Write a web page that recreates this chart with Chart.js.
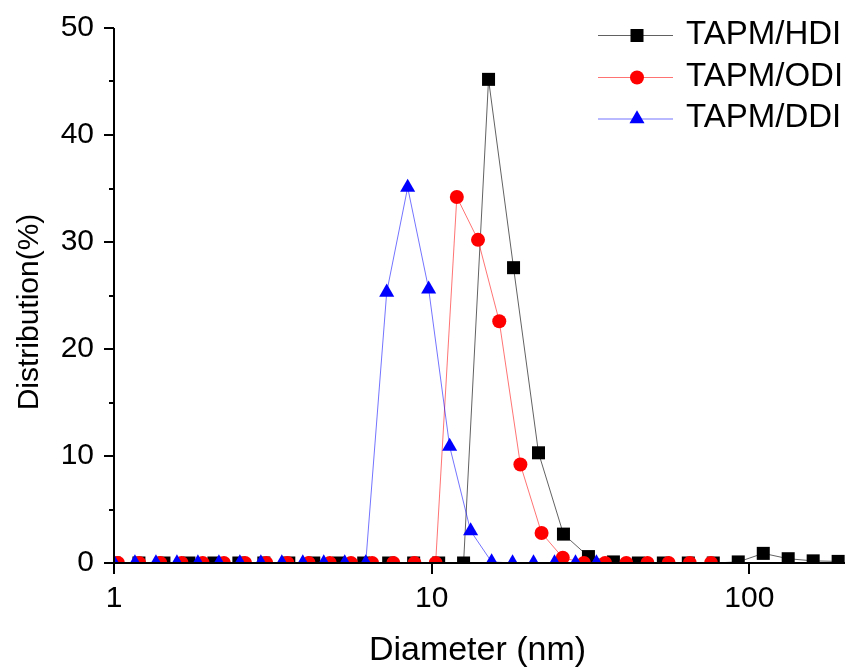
<!DOCTYPE html>
<html>
<head>
<meta charset="utf-8">
<script src="https://cdn.jsdelivr.net/npm/chart.js@4.4.1/dist/chart.umd.min.js"></script>
<style>
html,body{margin:0;padding:0;background:#fff;}
#wrap{width:849px;height:669px;}
</style>
</head>
<body>
<div id="wrap"><canvas id="c" width="849" height="669"></canvas></div>
<script>
// ---- data ----
const seriesLabels = ['TAPM/HDI', 'TAPM/ODI', 'TAPM/DDI'];

const hdiDiameter = [1.000, 1.198, 1.436, 1.721, 2.063, 2.472, 2.962, 3.550, 4.254, 5.098,
  6.110, 7.322, 8.775, 10.52, 12.60, 15.10, 18.10, 21.69, 25.99, 31.15,
  37.33, 44.73, 53.61, 64.24, 76.99, 92.26, 110.6, 132.5, 158.8, 190.3];
const hdiValues = [0, 0, 0, 0, 0, 0, 0, 0, 0, 0,
  0, 0, 0, 0, 0, 45.2, 27.6, 10.3, 2.7, 0.6,
  0.1, 0, 0, 0, 0, 0.1, 0.9, 0.4, 0.2, 0.15];

const odiDiameter = [1.029, 1.200, 1.399, 1.632, 1.902, 2.218, 2.586, 3.015, 3.515, 4.098,
  4.778, 5.571, 6.495, 7.573, 8.829, 10.29, 12.00, 13.99, 16.32, 19.02,
  22.18, 25.86, 30.15, 35.15, 40.98, 47.78, 55.71, 64.95, 75.73];
const odiValues = [0, 0, 0, 0, 0, 0, 0, 0, 0, 0,
  0, 0, 0, 0, 0, 0, 34.2, 30.2, 22.6, 9.2,
  2.8, 0.5, 0, 0, 0, 0, 0, 0, 0];

const ddiDiameter = [1.000, 1.164, 1.355, 1.578, 1.837, 2.139, 2.490, 2.899, 3.375, 3.929,
  4.574, 5.326, 6.200, 7.218, 8.403, 9.783, 11.39, 13.26, 15.44, 17.97,
  20.92, 24.36, 28.36, 33.01];
const ddiValues = [0, 0, 0, 0, 0, 0, 0, 0, 0, 0,
  0, 0, 0, 25.3, 35.1, 25.6, 10.9, 3.0, 0.1, 0,
  0, 0, 0, 0];

const xTickValues = [1, 10, 100];
const yMajorTicks = [0, 10, 20, 30, 40, 50];
const yMinorTicks = [5, 15, 25, 35, 45];

const xTitle = 'Diameter (nm)';
const yTitle = 'Distribution(%)';

// ---- chart ----
const FONT = "'Liberation Sans', Arial, sans-serif";
function pts(xs, ys) { return xs.map((x, i) => ({x: x, y: ys[i]})); }

const styles = [
  {line: 'rgba(0,0,0,0.62)', fill: '#000000', shape: 'rect', r: 9.2},
  {line: 'rgba(255,0,0,0.55)', fill: '#ff0000', shape: 'circle', r: 7},
  {line: 'rgba(0,0,255,0.55)', fill: '#0000ff', shape: 'triangle', r: 8.7}
];
const allX = [hdiDiameter, odiDiameter, ddiDiameter];
const allY = [hdiValues, odiValues, ddiValues];

const datasets = seriesLabels.map((lab, k) => ({
  label: lab,
  data: pts(allX[k], allY[k]),
  borderColor: styles[k].line,
  borderWidth: 1,
  backgroundColor: styles[k].fill,
  pointBackgroundColor: styles[k].fill,
  pointBorderColor: styles[k].fill,
  pointBorderWidth: 0,
  pointStyle: styles[k].shape,
  pointRadius: styles[k].r,
  pointHoverRadius: styles[k].r,
  tension: 0,
  order: 3 - k
}));

const decor = {
  id: 'decor',
  afterDraw(chart) {
    const ctx = chart.ctx;
    const xs = chart.scales.x, ys = chart.scales.y;
    const a = chart.chartArea;
    ctx.save();
    ctx.strokeStyle = '#000';
    ctx.lineWidth = 2;
    // axes
    ctx.beginPath();
    ctx.moveTo(a.left, a.top);
    ctx.lineTo(a.left, a.bottom);
    ctx.lineTo(a.right, a.bottom);
    ctx.stroke();
    // y ticks
    yMajorTicks.forEach(v => {
      const y = Math.round(ys.getPixelForValue(v));
      ctx.beginPath(); ctx.moveTo(a.left - 10, y); ctx.lineTo(a.left, y); ctx.stroke();
    });
    yMinorTicks.forEach(v => {
      const y = Math.round(ys.getPixelForValue(v));
      ctx.beginPath(); ctx.moveTo(a.left - 5, y); ctx.lineTo(a.left, y); ctx.stroke();
    });
    // x ticks
    xTickValues.forEach(v => {
      const x = Math.round(xs.getPixelForValue(v));
      ctx.beginPath(); ctx.moveTo(x, a.bottom); ctx.lineTo(x, a.bottom + 11); ctx.stroke();
    });
    // titles
    ctx.fillStyle = '#000';
    ctx.textAlign = 'center';
    ctx.textBaseline = 'middle';
    ctx.font = '34px ' + FONT;
    ctx.fillText(xTitle, (a.left + a.right) / 2 - 2, 651);
    ctx.save();
    ctx.translate(30, 312);
    ctx.rotate(-Math.PI / 2);
    ctx.font = '30px ' + FONT;
    ctx.fillText(yTitle, 0, 0);
    ctx.restore();
    // legend
    const legY = [35.5, 77.5, 119];
    ctx.font = '33px ' + FONT;
    ctx.textAlign = 'left';
    seriesLabels.forEach((lab, k) => {
      const y = legY[k];
      ctx.strokeStyle = styles[k].line;
      ctx.lineWidth = 1;
      ctx.beginPath(); ctx.moveTo(598, y); ctx.lineTo(673, y); ctx.stroke();
      ctx.fillStyle = styles[k].fill;
      ctx.strokeStyle = styles[k].fill;
      Chart.helpers.drawPoint(ctx, {pointStyle: styles[k].shape, radius: styles[k].r, borderWidth: 0, rotation: 0}, 637, y);
      ctx.fillStyle = '#000';
      ctx.fillText(lab, 686, y - 1);
    });
    ctx.restore();
  }
};

new Chart(document.getElementById('c'), {
  type: 'line',
  data: {datasets: datasets},
  options: {
    responsive: false,
    animation: false,
    devicePixelRatio: 1,
    layout: {autoPadding: false, padding: {left: 0, right: 4, top: 28, bottom: 0}},
    plugins: {legend: {display: false}, tooltip: {enabled: false}, title: {display: false}},
    scales: {
      x: {
        type: 'logarithmic',
        min: 1, max: 200,
        afterBuildTicks: s => { s.ticks = xTickValues.map(v => ({value: v})); },
        afterFit: s => { s.height = 106; s.paddingLeft = 0; s.paddingRight = 0; },
        grid: {display: false, drawTicks: false},
        border: {display: false},
        ticks: {
          color: '#000', padding: 18, maxRotation: 0, autoSkip: false,
          font: {family: FONT, size: 30},
          callback: v => String(v)
        }
      },
      y: {
        type: 'linear',
        min: 0, max: 50,
        afterBuildTicks: s => { s.ticks = yMajorTicks.map(v => ({value: v})); },
        afterFit: s => { s.width = 114; s.paddingTop = 0; s.paddingBottom = 0; },
        grid: {display: false, drawTicks: false},
        border: {display: false},
        ticks: {
          color: '#000', padding: 20,
          font: {family: FONT, size: 30},
          callback: v => String(v)
        }
      }
    }
  },
  plugins: [decor]
});
</script>
</body>
</html>
